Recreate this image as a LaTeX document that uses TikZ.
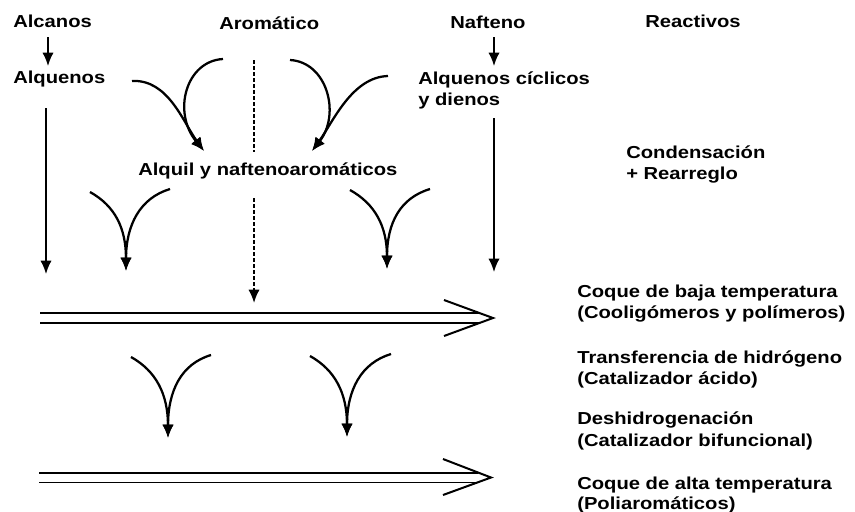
\documentclass[tikz,border=0pt]{standalone}
\usepackage{fontspec}
\setmainfont{Liberation Sans}[FakeStretch=1.165]
\usetikzlibrary{arrows.meta}
\begin{document}
\begin{tikzpicture}[x=0.75pt,y=-0.75pt,
  lbl/.style={anchor=base west,inner sep=0pt,font=\bfseries\fontsize{13}{15}\selectfont},
  tip/.style={-{Latex[length=10pt,width=8.5pt]}},
  arr/.style={line width=1.4pt,tip},
  crv/.style={line width=1.7pt,tip},
  dsh/.style={line width=1.5pt,dash pattern=on 3pt off 1.5pt},
  dbl/.style={line width=1.4pt,double distance=6pt},
  chev/.style={line width=1.5pt,line join=miter}]
\useasboundingbox (0,0) rectangle (855,511);
% texts
\node[lbl] (alcanos) at (13,27) {Alcanos};
\node[lbl] (arom) at (219,29) {Aromático};
\node[lbl] (nafteno) at (450,28) {Nafteno};
\node[lbl] (react) at (645,27) {Reactivos};
\node[lbl] (alquenos) at (13,83) {Alquenos};
\node[lbl] (alqcic) at (418,84) {Alquenos cíclicos};
\node[lbl] (ydienos) at (418,105) {y dienos};
\node[lbl] (alquil) at (138,175) {Alquil y naftenoaromáticos};
\node[lbl] (conden) at (626,158) {Condensación};
\node[lbl] (rearr) at (626,179) {+ Rearreglo};
\node[lbl] (cbaja) at (577,297) {Coque de baja temperatura};
\node[lbl] (cool) at (577,318) {(Cooligómeros y polímeros)};
\node[lbl] (transf) at (577,363) {Transferencia de hidrógeno};
\node[lbl] (cacido) at (577,384) {(Catalizador ácido)};
\node[lbl] (deshid) at (577,424) {Deshidrogenación};
\node[lbl] (cbif) at (577,446) {(Catalizador bifuncional)};
\node[lbl] (calta) at (577,489) {Coque de alta temperatura};
\node[lbl] (poli) at (577,509) {(Poliaromáticos)};
% short arrows
\draw[arr] (48,37) -- (48,66);
\draw[arr] (494,37) -- (494,66);
% long vertical arrows
\coordinate (lv1) at (46,108); \coordinate (lv2) at (46,274);
\coordinate (rv1) at (494,118); \coordinate (rv2) at (494,272);
\draw[arr] (lv1) -- (lv2);
\draw[arr] (rv1) -- (rv2);
% dashed lines
\draw[dsh] (254,60) -- (254,152);
\draw[dsh,tip] (254,198) -- (254,303);
% upper converging curves
\coordinate (t1) at (204,151);
\coordinate (t2) at (312,151);
\draw[crv] (132,81) .. controls (168,79) and (183,122) .. (t1);
\draw[crv] (223,59) .. controls (186,61) and (172,112) .. (t1);
\draw[crv] (290,60) .. controls (327,62) and (341,114) .. (t2);
\draw[crv] (388,76) .. controls (352,77) and (333,122) .. (t2);
% middle Y arrows
\coordinate (y1) at (126,271);
\coordinate (y2) at (387,269);
\draw[crv] (90,192) .. controls (115,206) and (126,228) .. (y1);
\draw[crv] (170,189) .. controls (140,198) and (126,225) .. (y1);
\draw[crv] (350,190) .. controls (375,204) and (387,226) .. (y2);
\draw[crv] (430,189) .. controls (400,198) and (387,223) .. (y2);
% lower Y arrows
\coordinate (y3) at (168,438);
\coordinate (y4) at (347,437);
\draw[crv] (131,357) .. controls (156,371) and (168,394) .. (y3);
\draw[crv] (211,355) .. controls (181,364) and (168,391) .. (y3);
\draw[crv] (310,356) .. controls (335,370) and (347,393) .. (y4);
\draw[crv] (391,354) .. controls (361,363) and (347,390) .. (y4);
% double arrows
\coordinate (d1s) at (40,318); \coordinate (d1e) at (480,318);
\draw[dbl] (d1s) -- (d1e);
\draw[chev] (444,300) -- (493,318) -- (444,336);
\coordinate (d2s) at (39,477.5); \coordinate (d2e) at (478,477.5);
\draw[dbl] (d2s) -- (d2e);
\draw[chev] (443,459) -- (491,477.5) -- (443,495);
\end{tikzpicture}
\end{document}
